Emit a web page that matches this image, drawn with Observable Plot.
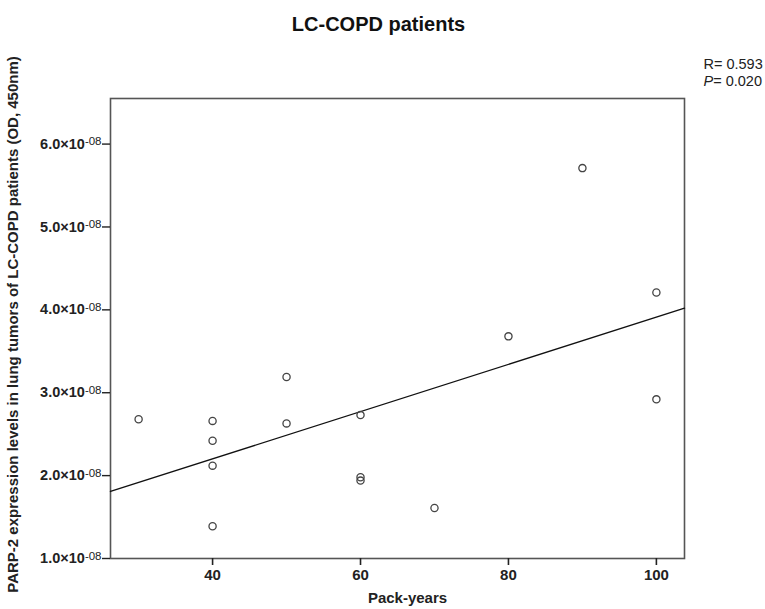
<!DOCTYPE html>
<html>
<head>
<meta charset="utf-8">
<script src="https://cdn.jsdelivr.net/npm/d3@7"></script>
<script src="https://cdn.jsdelivr.net/npm/@observablehq/plot@0.6"></script>
<style>
  html, body { margin: 0; padding: 0; background: #fff; }
  #chart svg { display: block; }
</style>
</head>
<body>
<div id="chart"></div>
<script>
// ---- data ----
const packYears = [30, 40, 40, 40, 40, 50, 50, 60, 60, 60, 70, 80, 90, 100, 100];
const parp2 = [2.68e-8, 2.66e-8, 2.42e-8, 2.12e-8, 1.39e-8, 3.19e-8, 2.63e-8, 2.73e-8, 1.98e-8, 1.94e-8, 1.61e-8, 3.68e-8, 5.71e-8, 4.21e-8, 2.92e-8];
const xTicks = [40, 60, 80, 100];
const yTicks = [1e-8, 2e-8, 3e-8, 4e-8, 5e-8, 6e-8];
const yTickMantissa = ["1.0", "2.0", "3.0", "4.0", "5.0", "6.0"];
const yTickExponent = "-08";
const xDomain = [26.2, 103.8];
const yDomain = [1e-8, 6.55e-8];
const statLabels = ["R", "P"];
const statValues = ["0.593", "0.020"];
const titleText = "LC-COPD patients";
const xLabel = "Pack-years";
const yLabel = "PARP-2 expression levels in lung tumors of LC-COPD patients (OD, 450nm)";

// ---- least-squares fit line computed from the data ----
const data = packYears.map((x, i) => ({x, y: parp2[i]}));
const mx = d3.mean(packYears), my = d3.mean(parp2);
const sxy = d3.sum(data, d => (d.x - mx) * (d.y - my));
const sxx = d3.sum(data, d => (d.x - mx) ** 2);
const slope = sxy / sxx, intercept = my - slope * mx;
const fit = xDomain.map(x => ({x, y: intercept + slope * x}));

const font = "'Liberation Sans', Arial, Helvetica, sans-serif";

const chart = Plot.plot({
  width: 765,
  height: 609,
  marginLeft: 110,
  marginRight: 81,
  marginTop: 98,
  marginBottom: 51,
  style: {fontFamily: font, color: "#222", background: "#fff", overflow: "visible"},
  x: {domain: xDomain},
  y: {domain: yDomain},
  marks: [
    Plot.frame({stroke: "#555", strokeWidth: 1.6}),
    Plot.axisX({ticks: xTicks, tickSize: 7, tickPadding: 4, fontSize: 15, fontWeight: "bold",
                label: null, strokeWidth: 1.6}),
    Plot.axisY({ticks: yTicks, tickSize: 8, tickPadding: 1, fontSize: 14.5, fontWeight: "bold",
                label: null, strokeWidth: 1.4,
                tickFormat: d => yTickMantissa[yTicks.indexOf(d)] + "×10"}),
    Plot.line(fit, {x: "x", y: "y", stroke: "#111", strokeWidth: 1.4}),
    Plot.dot(data, {x: "x", y: "y", r: 3.6, stroke: "#444", strokeWidth: 1.3, fill: "none"}),
    Plot.text([titleText], {frameAnchor: "top", dx: -19, dy: -74, fontSize: 20, fontWeight: "bold",
                            lineAnchor: "middle", fill: "#111"}),
    Plot.text([statLabels[0] + "= " + statValues[0]], {frameAnchor: "top-right", dx: 19, dy: -34,
                            textAnchor: "start", lineAnchor: "middle", fontSize: 14.5, fill: "#222"}),
    Plot.text([statLabels[1] + "= " + statValues[1]], {frameAnchor: "top-right", dx: 19, dy: -17,
                            textAnchor: "start", lineAnchor: "middle", fontSize: 14.5, fill: "#222"}),
    Plot.text([xLabel], {frameAnchor: "bottom", dx: 10, dy: 40, fontSize: 15, fontWeight: "bold",
                         lineAnchor: "middle", fill: "#222"}),
    Plot.text([yLabel], {frameAnchor: "left", dx: -97.5, dy: -4, rotate: -90, fontSize: 15,
                         fontWeight: "bold", textAnchor: "middle", lineAnchor: "middle", fill: "#222"})
  ]
});

document.getElementById("chart").appendChild(chart);

// superscript exponents on y tick labels
d3.select(chart).selectAll("text").filter(function() {
  return /×10$/.test(this.textContent);
}).each(function() {
  d3.select(this).append("tspan").attr("dy", -3.5).attr("font-size", 11.5)
    .attr("font-weight", "normal").text(yTickExponent);
});

// italic P in the statistic
d3.select(chart).selectAll("text").filter(function() {
  return this.textContent === statLabels[1] + "= " + statValues[1];
}).each(function() {
  const t = d3.select(this);
  t.text(null);
  t.append("tspan").attr("font-style", "italic").text(statLabels[1]);
  t.append("tspan").text("= " + statValues[1]);
});
</script>
</body>
</html>
